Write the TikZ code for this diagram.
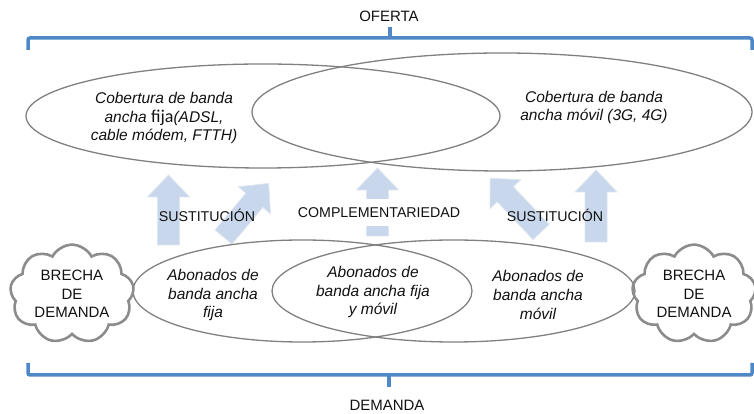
\documentclass[tikz,border=0pt]{standalone}
\usepackage{fontspec}
\setmainfont{Liberation Sans}
\newfontfamily\calfont{Carlito}
\usetikzlibrary{shapes.geometric,shapes.symbols}
\definecolor{brk}{HTML}{4F88C6}
\definecolor{ellgray}{HTML}{808080}
\definecolor{cloudgray}{HTML}{8C8C8C}
\definecolor{arrowfill}{HTML}{C8D7EB}
\definecolor{arrowline}{HTML}{DCE5F1}
\definecolor{ink}{HTML}{111111}
\tikzset{
  pics/fatarrow/.style={code={
    \fill[arrowfill, draw=arrowline, line width=0.8pt]
      (0,-11) -- (#1-22,-11) -- (#1-22,-21) -- (#1,0) -- (#1-22,21) -- (#1-22,11) -- (0,11) -- cycle;}}
}
\begin{document}
\begin{tikzpicture}[x=1pt,y=1pt,
  ell/.style={draw=ellgray, line width=1.3pt, ellipse, inner sep=0pt},
  txt/.style={font=\fontsize{15.5}{18.8}\selectfont\itshape, align=center, inner sep=0pt, text=ink},
  lbl/.style={font=\fontsize{14.2}{18}\selectfont, align=center, inner sep=0pt, text=ink},
  captxt/.style={font=\fontsize{15}{18}\selectfont, align=center, inner sep=0pt, text=ink},
  cloudbox/.style={cloud, cloud puffs=9, cloud puff arc=125, aspect=1.3, draw=cloudgray, line width=2.6pt,
     minimum width=124pt, minimum height=96pt, inner sep=0pt, align=center,
     font=\fontsize{15}{18.5}\selectfont, text=ink},
  bracket/.style={draw=brk, line width=3.5pt, rounded corners=2pt}
]
\useasboundingbox (0,0) rectangle (754,414);

% arrows
\pic[rotate=90] at (168.5,169) {fatarrow=70};
\pic[rotate=49.9] at (223.5,177) {fatarrow=70};
\pic[rotate=90] at (377.5,178) {fatarrow=68};
\pic[rotate=133.4] at (541,182) {fatarrow=74};
\pic[rotate=90] at (596,172) {fatarrow=72};

% top brace
\coordinate (tl) at (28,364);
\coordinate (tr) at (752,364);
\draw[bracket] (tl) -- (28,376) -- (752,376) -- (tr);
\draw[bracket] (390,376) -- (390,387);
\node[captxt] (oferta) at (389,398) {OFERTA};

% top ellipses
\node[ell, minimum width=474pt, minimum height=104pt] (topL) at (263,298) {};
\node[ell, minimum width=500pt, minimum height=118pt] (topR) at (502,302) {};
\node[txt] (topLt) at (164,296) {Cobertura de banda\\ancha {\calfont\upshape\fontsize{18}{18.8}\selectfont fija}(ADSL,\\cable módem, FTTH)};
\node[txt] (topRt) at (594,306.5) {Cobertura de banda\\ancha móvil (3G, 4G)};

% arrow labels
\node[lbl] (sust1) at (207,199) {SUSTITUCIÓN};
\node[lbl, fill=white, minimum height=27pt, inner xsep=1pt] (compl) at (379,201) {COMPLEMENTARIEDAD};
\node[lbl] (sust2) at (555,199) {SUSTITUCIÓN};

% bottom ellipses
\node[ell, minimum width=339pt, minimum height=102pt] (botL) at (302.5,123) {};
\node[ell, minimum width=363pt, minimum height=102pt] (botR) at (453.5,123) {};
\node[txt] (botLt) at (213,119) {Abonados de\\banda ancha\\fija};
\node[txt] (botCt) at (373,122) {Abonados de\\banda ancha fija\\y móvil};
\node[txt] (botRt) at (538,119) {Abonados de\\banda ancha\\móvil};

% clouds
\node[cloudbox] (cloudL) at (72,120) {BRECHA\\DE\\DEMANDA};
\node[cloudbox] (cloudR) at (694,120) {BRECHA\\DE\\DEMANDA};

% bottom brace
\coordinate (bl) at (28,51);
\coordinate (br) at (752,51);
\draw[bracket] (bl) -- (28,39) -- (752,39) -- (br);
\draw[bracket] (389,39) -- (389,27);
\node[captxt] (demanda) at (387,9) {DEMANDA};
\end{tikzpicture}
\end{document}
